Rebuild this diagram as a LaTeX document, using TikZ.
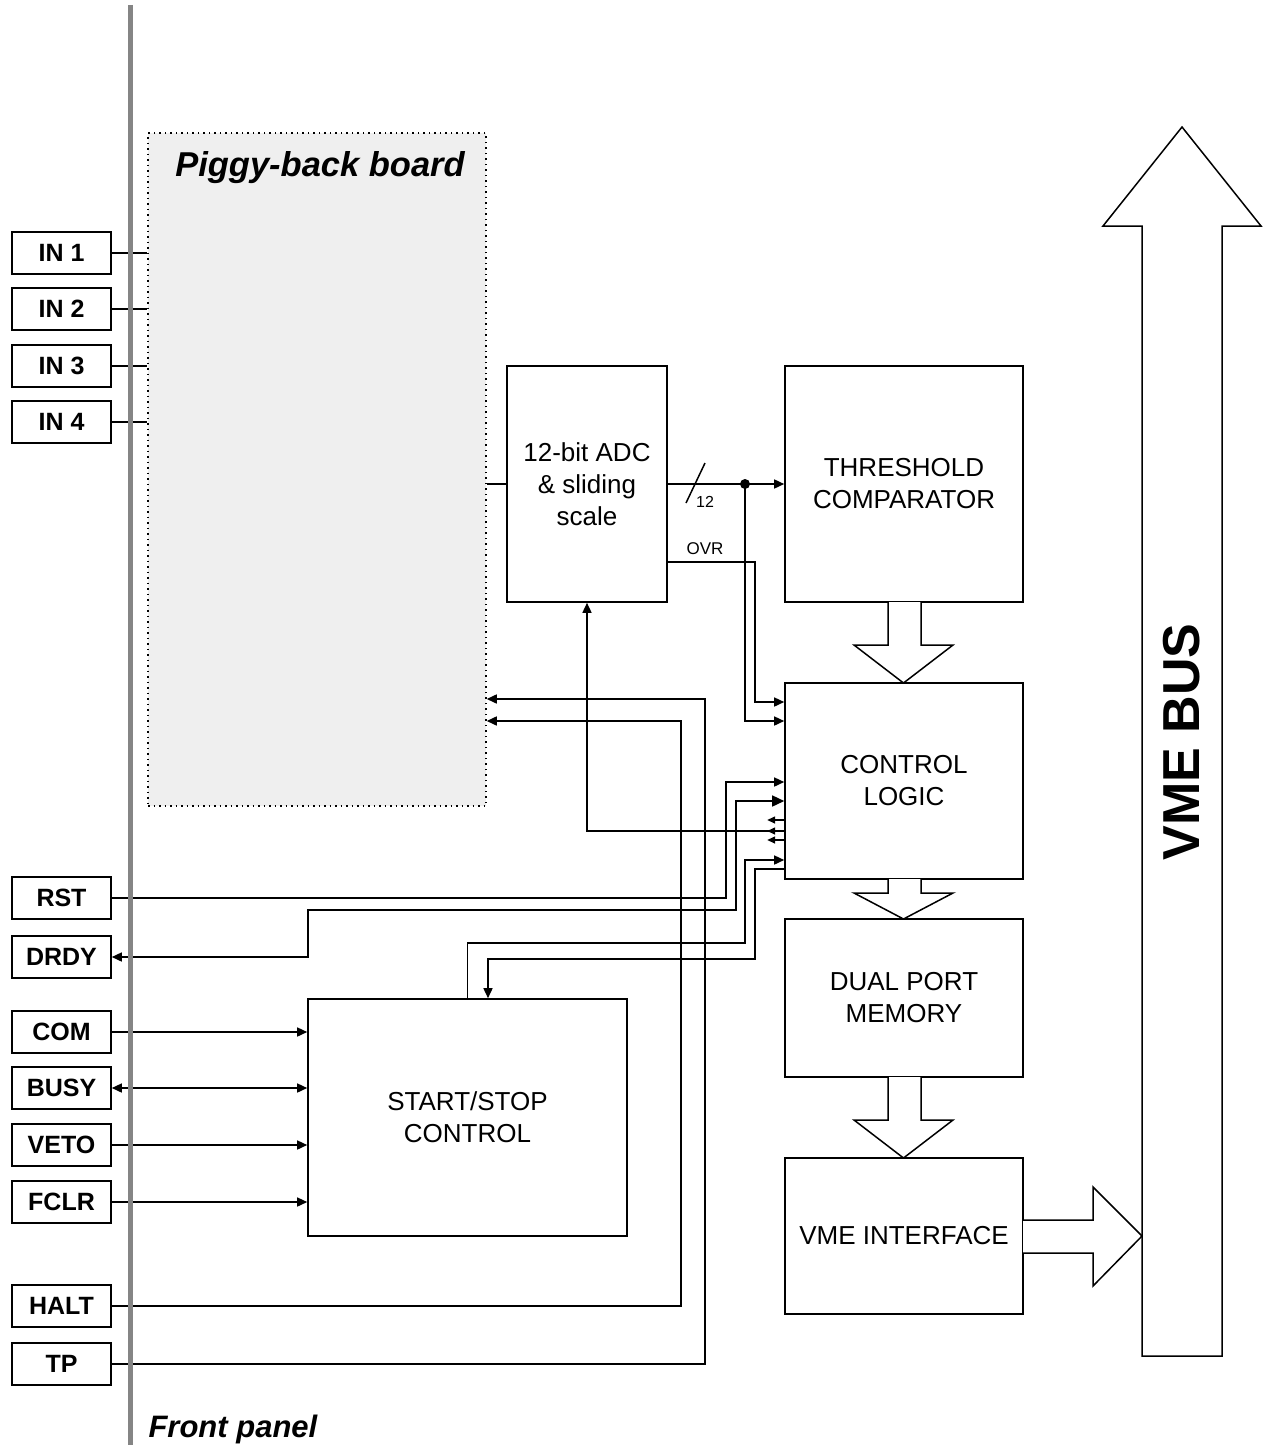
\documentclass[tikz,border=0pt]{standalone}
\usepackage{fontspec}
\setmainfont{Liberation Sans}
\usetikzlibrary{arrows.meta}
\definecolor{pbfill}{HTML}{EFEFEF}
\definecolor{fpgray}{HTML}{858585}
\begin{document}
\begin{tikzpicture}[x=1pt,y=-1pt,
  blk/.style={draw, line width=1.6pt, fill=white, align=center, inner sep=0pt, font=\fontsize{26}{32}\selectfont},
  io/.style={draw, line width=1.6pt, fill=white, minimum width=99pt, minimum height=42pt, inner sep=0pt, font=\fontsize{25}{30}\selectfont\bfseries},
  conn/.style={line width=1.5pt},
  tip/.style={-{Triangle[length=10pt,width=9pt]}},
  tips/.style={{Triangle[length=12pt,width=11pt]}-{Triangle[length=10pt,width=9pt]}},
  tipb/.style={{Triangle[length=10pt,width=9pt]}-{Triangle[length=10pt,width=9pt]}},
  smalltip/.style={-{Triangle[length=8pt,width=7pt]}},
  fat/.style={draw, line width=1.5pt, fill=white, line join=miter},
  piggy/.style={draw, fill=pbfill, line width=1.5pt, dash pattern=on 1.5pt off 4pt, inner sep=0pt}
]
\useasboundingbox (0,0) rectangle (1266,1445);

% piggy-back board
\node[piggy, minimum width=338pt, minimum height=673pt] (pb) at (317,469.5) {};
\node[anchor=base, font=\fontsize{34.5}{40}\selectfont\bfseries\itshape] (pbtitle) at (320,176) {Piggy-back board};

% I/O boxes
\node[io] (in1) at (61.5,253) {IN 1};
\node[io] (in2) at (61.5,309) {IN 2};
\node[io] (in3) at (61.5,366) {IN 3};
\node[io] (in4) at (61.5,422) {IN 4};
\node[io] (rst) at (61.5,898) {RST};
\node[io] (drdy) at (61.5,957) {DRDY};
\node[io] (com) at (61.5,1032) {COM};
\node[io] (busy) at (61.5,1088) {BUSY};
\node[io] (veto) at (61.5,1145) {VETO};
\node[io] (fclr) at (61.5,1202) {FCLR};
\node[io] (halt) at (61.5,1306) {HALT};
\node[io] (tp) at (61.5,1364) {TP};

% blocks
\node[blk, minimum width=160pt, minimum height=236pt] (adc) at (587,484) {12-bit ADC\\\& sliding\\scale};
\node[blk, minimum width=238pt, minimum height=236pt] (thr) at (904,484) {THRESHOLD\\COMPARATOR};
\node[blk, minimum width=238pt, minimum height=196pt] (ctl) at (904,781) {CONTROL\\LOGIC};
\node[blk, minimum width=238pt, minimum height=158pt] (dpm) at (904,998) {DUAL PORT\\MEMORY};
\node[blk, minimum width=238pt, minimum height=156pt] (vmei) at (904,1236) {VME INTERFACE};
\node[blk, minimum width=319pt, minimum height=237pt] (ss) at (467.5,1117.5) {START/STOP\\CONTROL};

% inputs to piggy-back
\foreach \n in {in1,in2,in3,in4}
  \draw[conn] (\n.east) -- (\n.east -| pb.west);

% piggy-back to ADC
\draw[conn] (pb.east |- adc.west) -- (adc.west);

% ADC data bus
\coordinate (dot) at (745,484);
\draw[conn,tip] (adc.east) -- (thr.west);
\fill (dot) circle (5pt);
\draw[conn] (686,503) -- (705,463);
\node[anchor=west, font=\fontsize{16}{18}\selectfont, inner sep=0pt] (n12) at (696,502) {12};
\node[font=\fontsize{17}{20}\selectfont, inner sep=0pt] (ovrlbl) at (705,549) {OVR};

% OVR and data to control logic
\draw[conn,tip] (adc.east |- 0,562) -| (755,702) -- (ctl.west |- 0,702);
\draw[conn,tip] (dot) |- (ctl.west |- 0,721);

% RST
\draw[conn,tip] (rst.east) -| (726,782) -- (ctl.west |- 0,782);
% DRDY
\draw[conn,tips] (ctl.west |- 0,801) -| (736,910) -| (308,957) -- (drdy.east);
% ADC feedback
\draw[conn,tip] (ctl.west |- 0,831) -| (adc.south);
\foreach \yy in {820,831,840}
  \draw[conn,smalltip] (ctl.west |- 0,\yy) -- ++(-17,0);
% start/stop <-> control logic
\draw[conn,tip] (ss.north) |- (745,943) |- (ctl.west |- 0,860);
\draw[conn,tip] (ctl.west |- 0,869) -| (755,959) -| ([xshift=20.5pt]ss.north);

% HALT and TP to piggy-back
\draw[conn,tip] (halt.east) -| (681,721) -- (pb.east |- 0,721);
\draw[conn,tip] (tp.east) -| (705,699) -- (pb.east |- 0,699);

% start/stop inputs
\draw[conn,tip] (com.east) -- (com.east -| ss.west);
\draw[conn,tipb] (busy.east) -- (busy.east -| ss.west);
\draw[conn,tip] (veto.east) -- (veto.east -| ss.west);
\draw[conn,tip] (fclr.east) -- (fclr.east -| ss.west);

% front panel
\draw[fpgray, line width=5pt] (130,5) -- (130,1445);
\node[anchor=base west, font=\fontsize{31}{36}\selectfont\bfseries\itshape] (fplabel) at (145,1437) {Front panel};

% fat arrows
\draw[fat] (888,602) -- (888,645) -- (854,645) -- (903.5,683) -- (953,645) -- (921,645) -- (921,602);
\draw[fat] (888,879) -- (888,893) -- (854,893) -- (903.5,919) -- (953,893) -- (921,893) -- (921,879);
\draw[fat] (888,1077) -- (888,1120) -- (854,1120) -- (903.5,1158) -- (953,1120) -- (921,1120) -- (921,1077);
\draw[fat] (1023,1220) -- (1093,1220) -- (1093,1187) -- (1142,1236) -- (1093,1286) -- (1093,1253) -- (1023,1253);

% VME bus
\draw[fat] (1142,1356) -- (1142,226) -- (1103,226) -- (1182,127) -- (1261,226) -- (1222,226) -- (1222,1356) -- cycle;
\node[rotate=90, font=\fontsize{52}{60}\selectfont\bfseries] (vmebus) at (1182,742) {VME BUS};

\end{tikzpicture}
\end{document}
